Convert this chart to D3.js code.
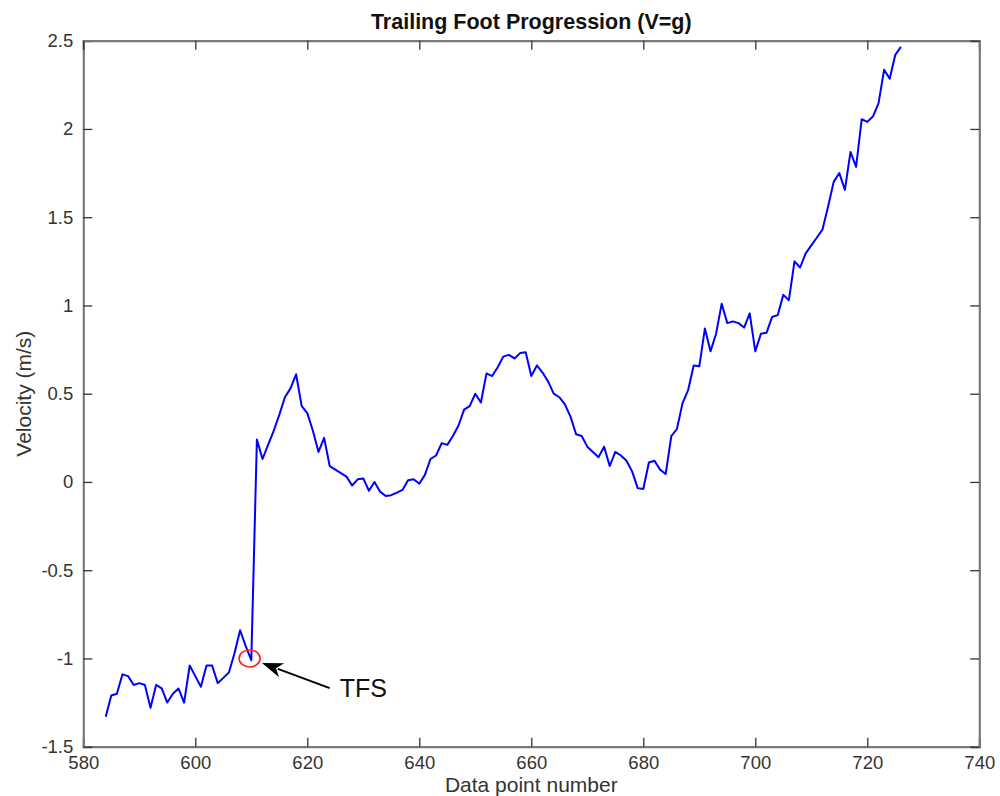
<!DOCTYPE html>
<html>
<head>
<meta charset="utf-8">
<script src="https://cdn.jsdelivr.net/npm/d3@7/dist/d3.min.js"></script>
<style>
  body { margin: 0; background: #fff; }
  svg text { font-family: "Liberation Sans", Arial, Helvetica, sans-serif; }
</style>
</head>
<body>
<svg id="chart" width="1000" height="796"></svg>
<script>
// data point numbers run consecutively from 584 to 726
const firstPoint = 584
const velocity = [
  -1.33, -1.21, -1.20, -1.09, -1.10, -1.15, -1.14, -1.15, -1.28, -1.15,
  -1.17, -1.25, -1.20, -1.17, -1.25, -1.04, -1.10, -1.16, -1.04, -1.04,
  -1.14, -1.11, -1.08, -0.97, -0.84, -0.93, -1.01, 0.24, 0.13, 0.21,
  0.29, 0.38, 0.48, 0.53, 0.61, 0.43, 0.39, 0.29, 0.17, 0.25,
  0.09, 0.07, 0.05, 0.03, -0.02, 0.015, 0.02, -0.05, 0.00, -0.055,
  -0.08, -0.075, -0.06, -0.045, 0.01, 0.015, -0.01, 0.04, 0.13, 0.15,
  0.22, 0.21, 0.26, 0.32, 0.41, 0.43, 0.50, 0.45, 0.615, 0.60,
  0.65, 0.71, 0.72, 0.70, 0.73, 0.735, 0.60, 0.66, 0.62, 0.57,
  0.50, 0.48, 0.44, 0.37, 0.27, 0.26, 0.20, 0.17, 0.14, 0.20,
  0.09, 0.17, 0.15, 0.12, 0.06, -0.035, -0.04, 0.11, 0.12, 0.07,
  0.045, 0.26, 0.30, 0.445, 0.52, 0.66, 0.655, 0.87, 0.74, 0.84,
  1.01, 0.90, 0.91, 0.90, 0.875, 0.955, 0.74, 0.84, 0.845, 0.935,
  0.945, 1.06, 1.03, 1.25, 1.215, 1.295, 1.34, 1.385, 1.43, 1.56,
  1.70, 1.75, 1.655, 1.87, 1.785, 2.055, 2.04, 2.07, 2.145, 2.335,
  2.285, 2.42, 2.465
]
const xTicks = [580, 600, 620, 640, 660, 680, 700, 720, 740]
const yTicks = [-1.5, -1, -0.5, 0, 0.5, 1, 1.5, 2, 2.5]

// TFS annotation (data coords)
const tfsPoint = {x: 609.7, y: -1.0}
const tfsArrow = {from: [624.0, -1.168], to: [611.9, -1.026]}
const tfsLabel = {x: 625.8, y: -1.22, text: 'TFS'}

const margin = {left: 83.3, right: 20.7, top: 40.7, bottom: 49.3}
const W = 1000, H = 796

const svg = d3.select('#chart')

const x = d3.scaleLinear().domain([580, 740]).range([margin.left, W - margin.right])
const y = d3.scaleLinear().domain([-1.5, 2.5]).range([H - margin.bottom, margin.top])

const data = velocity.map((v, i) => ({n: firstPoint + i, v: v}))

const tickLen = 9

// axes: labelled bottom/left, mirrored ticks on top/right
const axBottom = svg.append('g')
  .attr('transform', `translate(0,${y(-1.5)})`)
  .call(d3.axisBottom(x).tickValues(xTicks).tickFormat(d3.format('d')).tickSize(-tickLen).tickPadding(9))
const axLeft = svg.append('g')
  .attr('transform', `translate(${x(580)},0)`)
  .call(d3.axisLeft(y).tickValues(yTicks).tickFormat(d => String(d)).tickSize(-tickLen).tickPadding(10))
const axTop = svg.append('g')
  .attr('transform', `translate(0,${y(2.5)})`)
  .call(d3.axisTop(x).tickValues(xTicks).tickFormat('').tickSize(-tickLen))
const axRight = svg.append('g')
  .attr('transform', `translate(${x(740)},0)`)
  .call(d3.axisRight(y).tickValues(yTicks).tickFormat('').tickSize(-tickLen))

;[axBottom, axLeft, axTop, axRight].forEach(g => {
  g.select('.domain').attr('stroke', '#7a7a7a').attr('stroke-width', 2.2)
  g.selectAll('.tick line').attr('stroke', '#333').attr('stroke-width', 1.3)
  g.selectAll('.tick text').attr('fill', '#333').attr('font-size', 18.5)
})

// line
const line = d3.line().x(d => x(d.n)).y(d => y(d.v))
svg.append('path')
  .datum(data)
  .attr('d', line)
  .attr('fill', 'none')
  .attr('stroke', '#0000ff')
  .attr('stroke-width', 2)
  .attr('stroke-linejoin', 'round')

// annotation
svg.append('ellipse')
  .attr('cx', x(tfsPoint.x)).attr('cy', y(tfsPoint.y))
  .attr('rx', 10.5).attr('ry', 8.5)
  .attr('fill', 'none').attr('stroke', '#ff2020').attr('stroke-width', 1.6)

const ax0 = x(tfsArrow.from[0]), ay0 = y(tfsArrow.from[1])
const ax1 = x(tfsArrow.to[0]), ay1 = y(tfsArrow.to[1])
const ang = Math.atan2(ay1 - ay0, ax1 - ax0)
const headLen = 21, headW = 7.5
const ux = Math.cos(ang), uy = Math.sin(ang)
const bx = ax1 - ux * headLen, by = ay1 - uy * headLen
svg.append('line')
  .attr('x1', ax0).attr('y1', ay0).attr('x2', bx + ux * 4).attr('y2', by + uy * 4)
  .attr('stroke', '#000').attr('stroke-width', 2)
svg.append('path')
  .attr('d', `M${ax1},${ay1} L${bx - uy * headW},${by + ux * headW} L${bx + ux * 6},${by + uy * 6} L${bx + uy * headW},${by - ux * headW} Z`)
  .attr('fill', '#000')

svg.append('text')
  .attr('x', x(tfsLabel.x)).attr('y', y(tfsLabel.y))
  .attr('font-size', 25).attr('fill', '#111')
  .text(tfsLabel.text)

// title and labels
svg.append('text')
  .attr('x', (x(580) + x(740)) / 2).attr('y', 29)
  .attr('text-anchor', 'middle').attr('font-weight', 'bold').attr('font-size', 21.5).attr('fill', '#111')
  .text('Trailing Foot Progression (V=g)')
svg.append('text')
  .attr('x', (x(580) + x(740)) / 2).attr('y', 792)
  .attr('text-anchor', 'middle').attr('font-size', 21).attr('fill', '#333')
  .text('Data point number')
svg.append('text')
  .attr('transform', `translate(31,${(y(-1.5) + y(2.5)) / 2}) rotate(-90)`)
  .attr('text-anchor', 'middle').attr('font-size', 21).attr('fill', '#333')
  .text('Velocity (m/s)')
</script>
</body>
</html>
